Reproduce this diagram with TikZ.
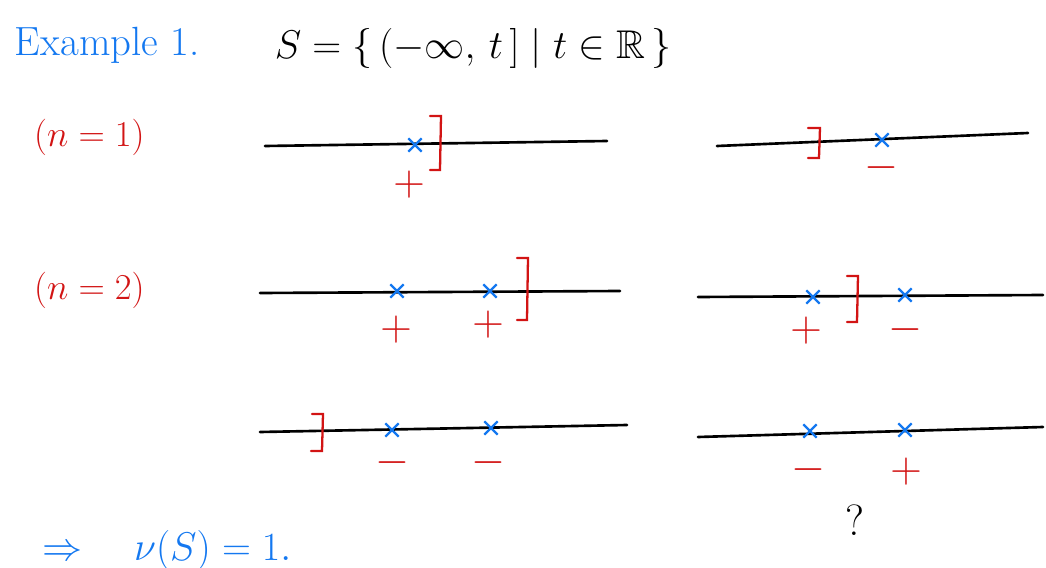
\documentclass[tikz,border=0pt]{standalone}
\usepackage{amsmath,amssymb}
\usetikzlibrary{shapes.misc}
\definecolor{inkblue}{RGB}{20,120,240}
\definecolor{inkred}{RGB}{210,20,20}

\begin{document}
\begin{tikzpicture}[x=0.02cm, y=-0.02cm,
    axis/.style={line width=1.5pt, line cap=round},
    pt/.style={cross out, draw=inkblue, line width=1.3pt,
               minimum size=0.22cm, inner sep=0pt},
    brk/.style={draw=inkred, line width=1.3pt, line cap=round},
    sgn/.style={text=inkred, font=\Huge},
    lbl/.style={text=inkred, font=\huge, anchor=west}
  ]
  \useasboundingbox (0,0) rectangle (1046,568);

  % heading
  \node[anchor=west, text=inkblue, font=\huge, scale=1.12] (ex) at (8,45) {Example 1.};
  \node[anchor=west, font=\huge, scale=1.1] (set) at (268,48)
    {$S = \{\,(-\infty,\, t\,] \;|\; t \in \mathbb{R}\,\}$};

  \node[lbl] (n1) at (28,137) {$(n=1)$};
  \node[lbl] (n2) at (28,290) {$(n=2)$};

  % n = 1
  \coordinate (a1) at (265,146);
  \coordinate (b1) at (607,141);
  \draw[axis] (a1) -- (b1);
  \node[pt] (x11) at (415,145) {};
  \draw[brk] (430,116) -- (441,116) -- (440,170) -- (430,170);
  \node[sgn] (s11) at (409,185) {$+$};

  \coordinate (a2) at (717,146);
  \coordinate (b2) at (1028,133);
  \draw[axis] (a2) -- (b2);
  \draw[brk] (808,128) -- (820,128) -- (819,158) -- (808,158);
  \node[pt] (x21) at (882,140) {};
  \node[sgn] (s21) at (881,168) {$-$};

  % n = 2
  \coordinate (a3) at (260,293);
  \coordinate (b3) at (620,291);
  \draw[axis] (a3) -- (b3);
  \node[pt] (x31) at (397,291) {};
  \node[pt] (x32) at (490,291) {};
  \draw[brk] (517,258) -- (528,258) -- (527,320) -- (517,320);
  \node[sgn] (s31) at (396,330) {$+$};
  \node[sgn] (s32) at (488,325) {$+$};

  \coordinate (a4) at (698,297);
  \coordinate (b4) at (1043,295);
  \draw[axis] (a4) -- (b4);
  \node[pt] (x41) at (813,297) {};
  \node[pt] (x42) at (905,295) {};
  \draw[brk] (847,276) -- (858,276) -- (857,322) -- (847,322);
  \node[sgn] (s41) at (806,331) {$+$};
  \node[sgn] (s42) at (905,330) {$-$};

  \coordinate (a5) at (260,432);
  \coordinate (b5) at (627,425);
  \draw[axis] (a5) -- (b5);
  \draw[brk] (312,414) -- (323,414) -- (322,451) -- (311,451);
  \node[pt] (x51) at (392,430) {};
  \node[pt] (x52) at (491,428) {};
  \node[sgn] (s51) at (392,463) {$-$};
  \node[sgn] (s52) at (488,463) {$-$};

  \coordinate (a6) at (698,437);
  \coordinate (b6) at (1043,427);
  \draw[axis] (a6) -- (b6);
  \node[pt] (x61) at (810,431) {};
  \node[pt] (x62) at (905,430) {};
  \node[sgn] (s61) at (808,470) {$-$};
  \node[sgn] (s62) at (906,472) {$+$};
  \node[font=\Huge] (q) at (855,520) {?};

  % result
  \node[anchor=west, text=inkblue, font=\huge, scale=1.1] (res) at (36,550)
    {$\Rightarrow\quad \nu(S) = 1.$};
\end{tikzpicture}
\end{document}
